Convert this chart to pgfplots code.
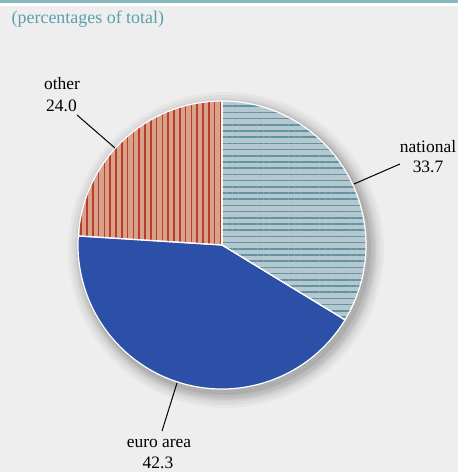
\documentclass[border=0pt]{standalone}
\usepackage{pgfplots}
\pgfplotsset{compat=1.18}
\usepackage{pgfplotstable}
\usetikzlibrary{patterns.meta}
\usepackage{fontspec}
\setmainfont{Liberation Serif}
\newfontfamily\lserif{Liberation Serif}
\definecolor{bgc}{RGB}{238,238,238}
\definecolor{topline}{RGB}{136,184,192}
\definecolor{subc}{RGB}{88,160,174}
\definecolor{natbg}{RGB}{181,199,207}
\definecolor{natln}{RGB}{98,146,164}
\definecolor{eurc}{RGB}{44,79,167}
\definecolor{othbg}{RGB}{217,161,138}
\definecolor{othln}{RGB}{184,62,44}
\pgfplotstableread{
label value
national 33.7
euro 42.3
other 24.0
}\piedata
\begin{document}
\begin{tikzpicture}[x=1bp,y=1bp]
\pgfplotstablegetelem{0}{value}\of\piedata \pgfmathsetmacro\vA{\pgfplotsretval}
\pgfplotstablegetelem{1}{value}\of\piedata \pgfmathsetmacro\vB{\pgfplotsretval}
\pgfplotstablegetelem{2}{value}\of\piedata \pgfmathsetmacro\vC{\pgfplotsretval}
\pgfmathsetmacro\aA{90}
\pgfmathsetmacro\aB{\aA-3.6*\vA}
\pgfmathsetmacro\aC{\aB-3.6*\vB}
\pgfmathsetmacro\aD{\aC-3.6*\vC}
\fill[bgc] (0,0) rectangle (458,472);
\fill[white] (0,466) rectangle (458,469);
\fill[topline] (0,469) rectangle (458,472);
\node[anchor=base west, inner sep=0pt, text=subc, font=\lserif\fontsize{18}{20}\selectfont] at (11.5,448) {(percentages of total)};
\begin{axis}[at={(0,0)}, anchor=south west, x=1bp, y=1bp,
  xmin=0, xmax=458, ymin=0, ymax=472, hide axis, clip=false]
% soft shadow
\fill[black, opacity=0.03] (axis cs:226,222) circle[radius=158bp];
\fill[black, opacity=0.035] (axis cs:226,222) circle[radius=155bp];
\fill[black, opacity=0.04] (axis cs:226,222) circle[radius=152bp];
\fill[black, opacity=0.05] (axis cs:226,222) circle[radius=150bp];
\fill[black, opacity=0.06] (axis cs:226,222) circle[radius=148bp];
\fill[black, opacity=0.08] (axis cs:225,223) circle[radius=146bp];
% wedges
\path[preaction={fill=natbg}, pattern={Lines[angle=0,distance=6.2bp,line width=1.6bp]}, pattern color=natln]
  (axis cs:222,227) -- ++(\aA:144bp) arc[start angle=\aA, end angle=\aB, radius=144bp] -- cycle;
\fill[eurc]
  (axis cs:222,227) -- ++(\aB:144bp) arc[start angle=\aB, end angle=\aC, radius=144bp] -- cycle;
\path[preaction={fill=othbg}, pattern={Lines[angle=90,distance=5.8bp,line width=1.6bp]}, pattern color=othln]
  (axis cs:222,227) -- ++(\aC:144bp) arc[start angle=\aC, end angle=\aD, radius=144bp] -- cycle;
\draw[white, line width=1.2bp, line join=round]
  (axis cs:222,227) -- ++(\aA:144bp) arc[start angle=\aA, end angle=\aB, radius=144bp] -- cycle;
\draw[white, line width=1.2bp, line join=round]
  (axis cs:222,227) -- ++(\aB:144bp) arc[start angle=\aB, end angle=\aC, radius=144bp] -- cycle;
\draw[white, line width=1.2bp, line join=round]
  (axis cs:222,227) -- ++(\aC:144bp) arc[start angle=\aC, end angle=\aD, radius=144bp] -- cycle;
% leader lines
\draw[black, line width=1bp] (axis cs:77,357) -- (axis cs:115,324);
\draw[black, line width=1bp] (axis cs:400,308) -- (axis cs:354,288);
\draw[black, line width=1bp] (axis cs:177,89) -- (axis cs:162,41);
% labels
\node[anchor=base, inner sep=0pt, font=\lserif\fontsize{17.5}{21}\selectfont] at (axis cs:62,382) {other};
\node[anchor=base, inner sep=0pt, font=\lserif\fontsize{17.5}{21}\selectfont] at (axis cs:61.5,360) {24.0};
\node[anchor=base, inner sep=0pt, font=\lserif\fontsize{17.5}{21}\selectfont] at (axis cs:428,319.5) {national};
\node[anchor=base, inner sep=0pt, font=\lserif\fontsize{17.5}{21}\selectfont] at (axis cs:428,299) {33.7};
\node[anchor=base, inner sep=0pt, font=\lserif\fontsize{17.5}{21}\selectfont] at (axis cs:159,24) {euro area};
\node[anchor=base, inner sep=0pt, font=\lserif\fontsize{17.5}{21}\selectfont] at (axis cs:158,3) {42.3};
\end{axis}
\end{tikzpicture}
\end{document}
